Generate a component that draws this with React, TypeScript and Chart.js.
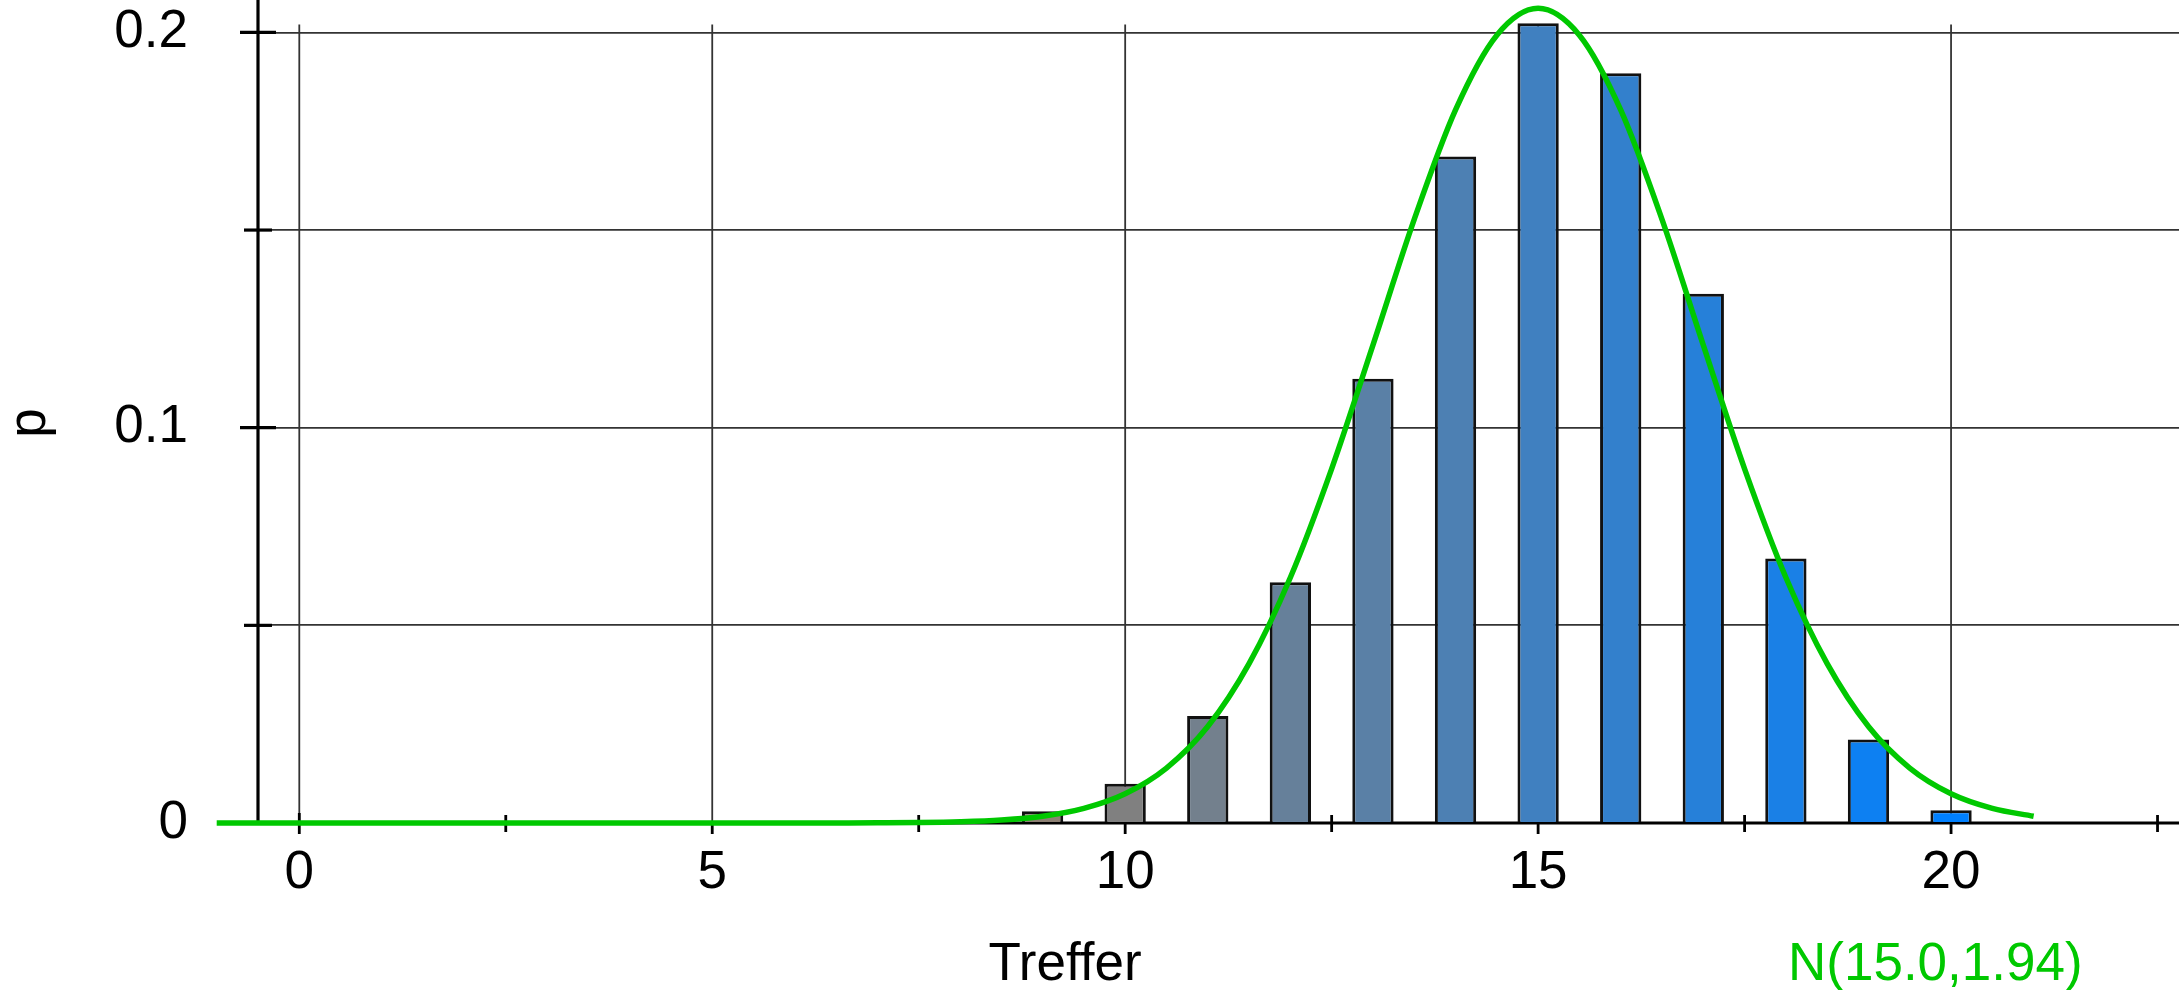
import React, { useEffect, useRef } from 'react';
import { Chart, registerables } from 'chart.js';

Chart.register(...registerables);

// Binomial-looking bar heights, k = 0..20
const K_VALUES = [0, 1, 2, 3, 4, 5, 6, 7, 8, 9, 10, 11, 12, 13, 14, 15, 16, 17, 18, 19, 20];
const P_VALUES = [0, 0, 0, 0, 0, 0, 0, 0.00015, 0.00075, 0.003, 0.0099, 0.0271, 0.0609, 0.1124, 0.1686, 0.2023, 0.1897, 0.1339, 0.0669, 0.0211, 0.0032];
const BAR_COLORS = [
  '#ff8000', '#f3800d', '#e6801a', '#da8026', '#cd8033', '#c08040', '#b3804d', '#a6805a',
  '#9a8067', '#8d8073', '#808080', '#73808d', '#66809a', '#5a80a6', '#4d80b3', '#4080c0',
  '#3380cc', '#2680d9', '#1a80e6', '#0d80f2', '#0080ff',
];

// Normal curve N(15.0, 1.94) points
const CURVE_X = [-1, 6, 6.5, 7, 7.5, 8, 8.5, 9, 9.5, 10, 10.5, 11, 11.5, 12, 12.5, 13, 13.5, 14, 14.5, 15, 15.5, 16, 16.5, 17, 17.5, 18, 18.5, 19, 19.5, 20, 20.5, 21];
const CURVE_Y = [0, 0, 0.00001, 0.00004, 0.00011, 0.0003, 0.00074, 0.0017, 0.0037, 0.0074, 0.0139, 0.0244, 0.0403, 0.0621, 0.0896, 0.1209, 0.1527, 0.1804, 0.1993, 0.2061, 0.1993, 0.1804, 0.1527, 0.1209, 0.0896, 0.0621, 0.0403, 0.0244, 0.0139, 0.0074, 0.0037, 0.0017];

const X_MAJOR_LABELS = ['0', '5', '10', '15', '20'];
const Y_MAJOR_LABELS = ['0', '0.1', '0.2'];

const X_TITLE = 'Treffer';
const Y_TITLE = 'p';
const CURVE_LABEL = 'N(15.0,1.94)';

const FONT = "'Liberation Sans', Arial, sans-serif";

const isMult = (v: number, m: number) => Math.abs(Math.round(v / m) * m - v) < 1e-9;

const decorPlugin = {
  id: 'decor',
  beforeDatasetsDraw(chart: any) {
    const { ctx, chartArea } = chart;
    const xs = chart.scales.x;
    const ys = chart.scales.y;
    ctx.save();
    // vertical grid lines at major x ticks
    const gridTop = ys.getPixelForValue(0.2) - 8;
    ctx.strokeStyle = '#333';
    ctx.lineWidth = 1.8;
    xs.ticks.forEach((t: any) => {
      if (isMult(t.value, 5)) {
        const px = xs.getPixelForValue(t.value);
        ctx.beginPath();
        ctx.moveTo(px, chartArea.bottom);
        ctx.lineTo(px, gridTop);
        ctx.stroke();
      }
    });
    // axes
    ctx.strokeStyle = '#000';
    ctx.lineWidth = 3.2;
    ctx.beginPath();
    ctx.moveTo(chartArea.left, chartArea.top);
    ctx.lineTo(chartArea.left, chartArea.bottom);
    ctx.stroke();
    ctx.beginPath();
    ctx.moveTo(chartArea.left, chartArea.bottom);
    ctx.lineTo(chartArea.right, chartArea.bottom);
    ctx.stroke();
    // x tick marks
    ctx.lineWidth = 2.8;
    xs.ticks.forEach((t: any) => {
      const px = xs.getPixelForValue(t.value);
      ctx.beginPath();
      if (isMult(t.value, 5)) {
        ctx.moveTo(px, chartArea.bottom - (t.value === 0 ? 10 : 0));
        ctx.lineTo(px, chartArea.bottom + 11);
      } else {
        ctx.moveTo(px, chartArea.bottom - 8);
        ctx.lineTo(px, chartArea.bottom + 9);
      }
      ctx.stroke();
    });
    // y tick marks
    ctx.lineWidth = 3.2;
    ys.ticks.forEach((t: any) => {
      if (t.value === 0) return;
      const py = ys.getPixelForValue(t.value);
      const half = isMult(t.value, 0.1) ? 18 : 14;
      ctx.beginPath();
      ctx.moveTo(chartArea.left - half, py);
      ctx.lineTo(chartArea.left + half, py);
      ctx.stroke();
    });
    ctx.restore();
  },
  afterDraw(chart: any) {
    const { ctx } = chart;
    ctx.save();
    ctx.font = `53px ${FONT}`;
    ctx.fillStyle = '#000';
    ctx.textBaseline = 'alphabetic';
    ctx.textAlign = 'center';
    ctx.fillText(X_TITLE, 1065, 980);
    ctx.fillStyle = '#00c800';
    ctx.textAlign = 'left';
    ctx.fillText(CURVE_LABEL, 1788, 980);
    ctx.fillStyle = '#000';
    ctx.translate(44.5, 423);
    ctx.rotate(-Math.PI / 2);
    ctx.textAlign = 'center';
    ctx.fillText(Y_TITLE, 0, 0);
    ctx.restore();
  },
};

export default function App() {
  const canvasRef = useRef<HTMLCanvasElement | null>(null);

  useEffect(() => {
    const canvas = canvasRef.current;
    if (!canvas) return;
    const chart = new Chart(canvas, {
      type: 'bar',
      data: {
        datasets: [
          {
            type: 'line',
            data: CURVE_X.map((x, i) => ({ x, y: CURVE_Y[i] })),
            borderColor: '#00c800',
            borderWidth: 5.5,
            pointRadius: 0,
            cubicInterpolationMode: 'monotone',
            fill: false,
            clip: false,
            order: 0,
          } as any,
          {
            type: 'bar',
            data: K_VALUES.map((k, i) => ({ x: k, y: P_VALUES[i] })),
            backgroundColor: BAR_COLORS,
            borderColor: '#111',
            borderWidth: 3,
            barPercentage: 0.5,
            categoryPercentage: 1,
            order: 1,
          } as any,
        ],
      },
      options: {
        responsive: false,
        animation: false,
        devicePixelRatio: 1,
        layout: { padding: 0 },
        plugins: { legend: { display: false }, tooltip: { enabled: false }, title: { display: false } },
        scales: {
          x: {
            type: 'linear',
            min: -0.5,
            max: 22.76,
            offset: false,
            grid: { display: false, drawTicks: false, offset: false },
            border: { display: false },
            ticks: {
              stepSize: 2.5,
              includeBounds: false,
              autoSkip: false,
              maxRotation: 0,
              minRotation: 0,
              padding: 19,
              color: '#000',
              font: { family: FONT, size: 53 },
              callback: (v: any) => {
                const n = Number(v);
                if (!isMult(n, 5)) return '';
                const idx = Math.round(n / 5);
                return X_MAJOR_LABELS[idx] ?? '';
              },
            },
            afterFit: (s: any) => {
              s.height = 167;
              s.paddingLeft = 0;
              s.paddingRight = 0;
              s.paddingTop = 0;
              s.paddingBottom = 0;
            },
          },
          y: {
            type: 'linear',
            min: 0,
            max: 0.2082,
            grid: { color: '#333', lineWidth: 1.8, drawTicks: false },
            border: { display: false },
            ticks: {
              stepSize: 0.05,
              includeBounds: false,
              padding: 70,
              color: '#000',
              font: { family: FONT, size: 53 },
              callback: (v: any) => {
                const n = Number(v);
                if (!isMult(n, 0.1)) return '';
                const idx = Math.round(n / 0.1);
                return Y_MAJOR_LABELS[idx] ?? '';
              },
            },
            afterFit: (s: any) => {
              s.width = 258;
              s.paddingLeft = 0;
              s.paddingRight = 0;
              s.paddingTop = 0;
              s.paddingBottom = 0;
            },
          },
        },
      } as any,
      plugins: [decorPlugin],
    });
    return () => chart.destroy();
  }, []);

  return (
    <div style={{ position: 'fixed', left: 0, top: 0, width: 2179, height: 990, background: '#fff' }}>
      <canvas ref={canvasRef} width={2179} height={990} style={{ width: 2179, height: 990, display: 'block' }} />
    </div>
  );
}
